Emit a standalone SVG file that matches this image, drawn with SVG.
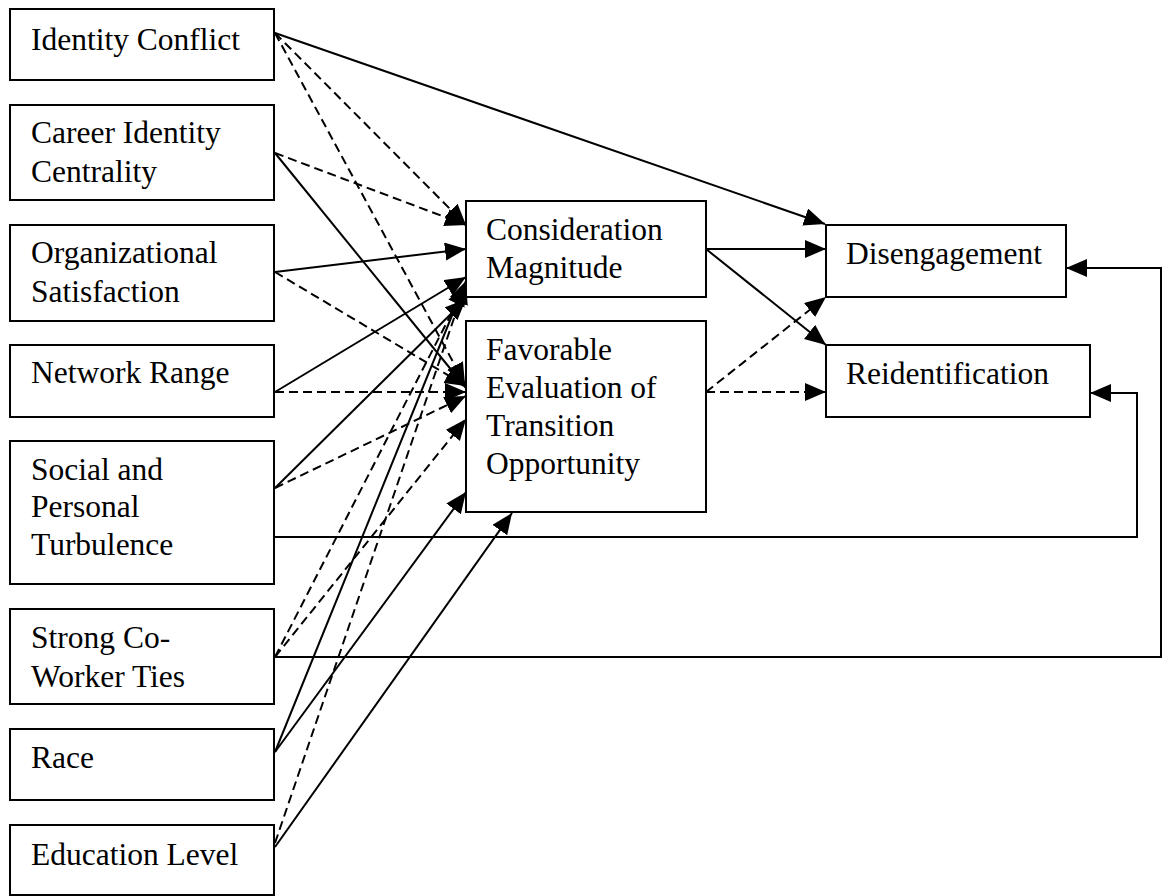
<svg xmlns="http://www.w3.org/2000/svg" width="1168" height="896" viewBox="0 0 1168 896">
<style>
.box{fill:#fff;stroke:#000;stroke-width:2}
.t{font-family:"Liberation Serif","Times New Roman",serif;font-size:31.5px;fill:#000}
.ln{fill:none;stroke:#000;stroke-width:2}
.d{stroke-dasharray:9,5}
</style>
<defs>
<marker id="ah" markerUnits="userSpaceOnUse" markerWidth="24" markerHeight="20" refX="21" refY="9" orient="auto">
<path d="M0,0 L21,9 L0,18 z" fill="#000"/>
</marker>
</defs>
<rect width="1168" height="896" fill="#fff"/>
<g id="connectors">
<line class="ln" x1="275" y1="33" x2="825" y2="224" marker-end="url(#ah)"/>
<line class="ln d" x1="275" y1="33" x2="466" y2="225" marker-end="url(#ah)"/>
<line class="ln d" x1="275" y1="33" x2="465" y2="384" marker-end="url(#ah)"/>
<line class="ln d" x1="275" y1="153" x2="466" y2="225" marker-end="url(#ah)"/>
<line class="ln" x1="275" y1="153" x2="466" y2="388" marker-end="url(#ah)"/>
<line class="ln" x1="275" y1="272" x2="466" y2="249" marker-end="url(#ah)"/>
<line class="ln d" x1="275" y1="272" x2="466" y2="386" marker-end="url(#ah)"/>
<line class="ln" x1="275" y1="392" x2="466" y2="277" marker-end="url(#ah)"/>
<line class="ln d" x1="275" y1="392" x2="466" y2="392" marker-end="url(#ah)"/>
<line class="ln" x1="275" y1="488" x2="466" y2="299" marker-end="url(#ah)"/>
<line class="ln d" x1="275" y1="488" x2="466" y2="396" marker-end="url(#ah)"/>
<line class="ln d" x1="275" y1="657" x2="466" y2="285" marker-end="url(#ah)"/>
<line class="ln d" x1="275" y1="657" x2="466" y2="419" marker-end="url(#ah)"/>
<line class="ln" x1="275" y1="752" x2="466" y2="281" marker-end="url(#ah)"/>
<line class="ln" x1="275" y1="752" x2="466" y2="492" marker-end="url(#ah)"/>
<line class="ln d" x1="275" y1="843" x2="466" y2="283" marker-end="url(#ah)"/>
<line class="ln" x1="275" y1="847" x2="512" y2="513" marker-end="url(#ah)"/>
<line class="ln" x1="706" y1="249" x2="826" y2="249" marker-end="url(#ah)"/>
<line class="ln" x1="706" y1="249" x2="826" y2="345" marker-end="url(#ah)"/>
<line class="ln d" x1="706" y1="392" x2="826" y2="297" marker-end="url(#ah)"/>
<line class="ln d" x1="706" y1="392" x2="826" y2="392" marker-end="url(#ah)"/>
<polyline class="ln" points="274,537 1137,537 1137,393 1090,393" marker-end="url(#ah)"/>
<polyline class="ln" points="274,657 1161,657 1161,268 1066,268" marker-end="url(#ah)"/>
</g>
<g id="n-identity-conflict"><rect class="box" x="10" y="9" width="264" height="71"/><text class="t" x="31" y="50">Identity Conflict</text></g>
<g id="n-career"><rect class="box" x="10" y="105" width="264" height="95"/><text class="t" x="31" y="143">Career Identity</text><text class="t" x="31" y="182">Centrality</text></g>
<g id="n-org"><rect class="box" x="10" y="225" width="264" height="96"/><text class="t" x="31" y="263">Organizational</text><text class="t" x="31" y="302">Satisfaction</text></g>
<g id="n-network"><rect class="box" x="10" y="345" width="264" height="72"/><text class="t" x="31" y="383">Network Range</text></g>
<g id="n-social"><rect class="box" x="10" y="441" width="264" height="143"/><text class="t" x="31" y="480">Social and</text><text class="t" x="31" y="517">Personal</text><text class="t" x="31" y="555">Turbulence</text></g>
<g id="n-strong"><rect class="box" x="10" y="609" width="264" height="95"/><text class="t" x="31" y="648">Strong Co-</text><text class="t" x="31" y="687">Worker Ties</text></g>
<g id="n-race"><rect class="box" x="10" y="729" width="264" height="71"/><text class="t" x="31" y="768">Race</text></g>
<g id="n-education"><rect class="box" x="10" y="825" width="264" height="70"/><text class="t" x="31" y="865">Education Level</text></g>
<g id="n-consideration"><rect class="box" x="466" y="201" width="240" height="96"/><text class="t" x="486" y="240">Consideration</text><text class="t" x="486" y="278">Magnitude</text></g>
<g id="n-favorable"><rect class="box" x="466" y="321" width="240" height="191"/><text class="t" x="486" y="360">Favorable</text><text class="t" x="486" y="398">Evaluation of</text><text class="t" x="486" y="436">Transition</text><text class="t" x="486" y="474">Opportunity</text></g>
<g id="n-disengagement"><rect class="box" x="826" y="225" width="240" height="72"/><text class="t" x="846" y="264">Disengagement</text></g>
<g id="n-reidentification"><rect class="box" x="826" y="345" width="264" height="72"/><text class="t" x="846" y="384">Reidentification</text></g>
</svg>
